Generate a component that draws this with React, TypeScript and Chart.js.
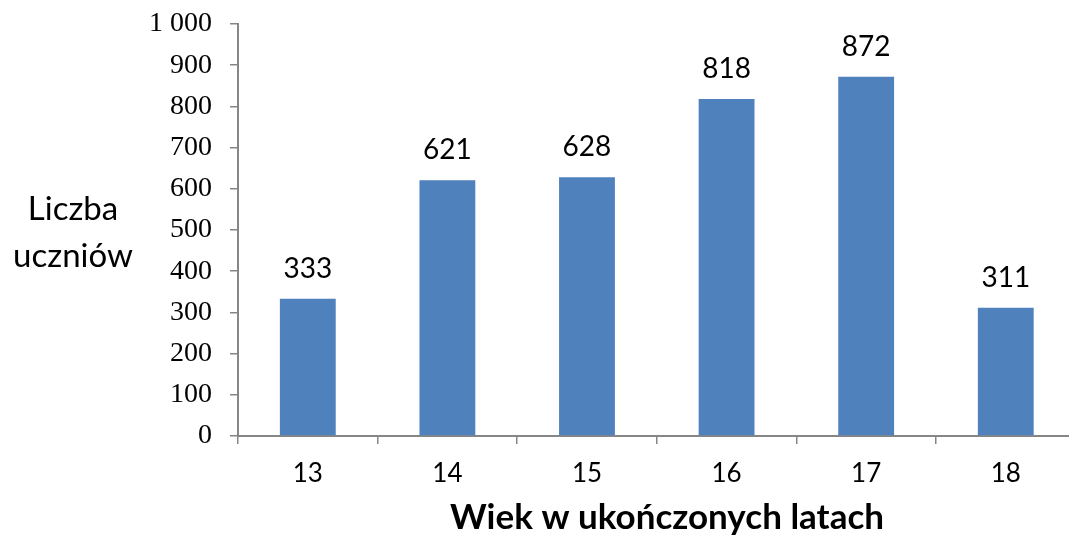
import React, { useEffect, useRef } from "react";
import { Chart, registerables } from "chart.js";

Chart.register(...registerables);

const categories = [13, 14, 15, 16, 17, 18];
const values = [333, 621, 628, 818, 872, 311];
const yMin = 0;
const yMax = 1000;
const yStep = 100;
const xMin = 12.5;
const xMax = 18.453;
const yTitleLines = ["Liczba", "uczniów"];
const xTitle = "Wiek w ukończonych latach";

const BAR = "#4F81BD";
const AXIS = "#868686";
const SANS = "Lato, 'Open Sans', sans-serif";
const SERIF = "'Liberation Serif', 'DejaVu Serif', serif";

const fmt = (v: number) => String(v).replace(/\B(?=(\d{3})+(?!\d))/g, " ");

const labelsPlugin = {
  id: "customLabels",
  afterDatasetsDraw(chart: any) {
    const ctx = chart.ctx;
    const meta = chart.getDatasetMeta(0);
    ctx.save();
    ctx.fillStyle = "#000";
    ctx.font = `28px ${SANS}`;
    ctx.textAlign = "center";
    ctx.textBaseline = "alphabetic";
    meta.data.forEach((bar: any, i: number) => {
      ctx.fillText(String(values[i]), bar.x, bar.y - 21);
    });
    // y title
    ctx.font = `33px ${SANS}`;
    ctx.fillText(yTitleLines[0], 73, 220);
    ctx.fillText(yTitleLines[1], 73, 267);
    // x title
    ctx.font = `bold 35px ${SANS}`;
    ctx.fillText(xTitle, 667, 529);
    ctx.restore();
  },
};

export default function App() {
  const ref = useRef<HTMLCanvasElement | null>(null);
  useEffect(() => {
    if (!ref.current) return;
    const chart = new Chart(ref.current, {
      type: "bar",
      data: {
        datasets: [
          {
            data: categories.map((c, i) => ({ x: c, y: values[i] })),
            backgroundColor: BAR,
            borderWidth: 0,
            categoryPercentage: 1,
            barPercentage: 0.4,
          },
        ],
      },
      options: {
        animation: false,
        responsive: false,
        layout: { padding: { left: 0, top: 24, right: 0, bottom: 0 } },
        plugins: { legend: { display: false }, tooltip: { enabled: false } },
        scales: {
          x: {
            type: "linear",
            min: xMin,
            max: xMax,
            offset: false,
            afterBuildTicks: (s: any) => {
              s.ticks = categories.map((v) => ({ value: v }));
            },
            grid: {
              offset: true,
              drawOnChartArea: false,
              drawTicks: true,
              tickLength: 8,
              color: AXIS,
              lineWidth: 1.5,
            },
            border: { color: AXIS, width: 2 },
            ticks: {
              color: "#000",
              font: { family: SANS, size: 26 },
              padding: 14,
              maxRotation: 0,
              autoSkip: false,
              callback: (v: any) => String(v),
            },
            afterFit: (s: any) => {
              s.height = 101;
            },
          },
          y: {
            min: yMin,
            max: yMax,
            grid: {
              drawOnChartArea: false,
              drawTicks: true,
              tickLength: 8,
              color: AXIS,
              lineWidth: 1.5,
            },
            border: { color: AXIS, width: 2 },
            ticks: {
              stepSize: yStep,
              color: "#000",
              font: { family: SERIF, size: 28, lineHeight: 0.4 },
              padding: 18,
              callback: (v: any) => fmt(Number(v)),
            },
            afterFit: (s: any) => {
              s.width = 238;
            },
          },
        },
      },
      plugins: [labelsPlugin],
    });
    return () => chart.destroy();
  }, []);
  return (
    <div style={{ position: "fixed", left: 0, top: 0, width: 1069, height: 537, background: "#fff" }}>
      <canvas ref={ref} width={1069} height={537} style={{ display: "block" }} />
    </div>
  );
}
